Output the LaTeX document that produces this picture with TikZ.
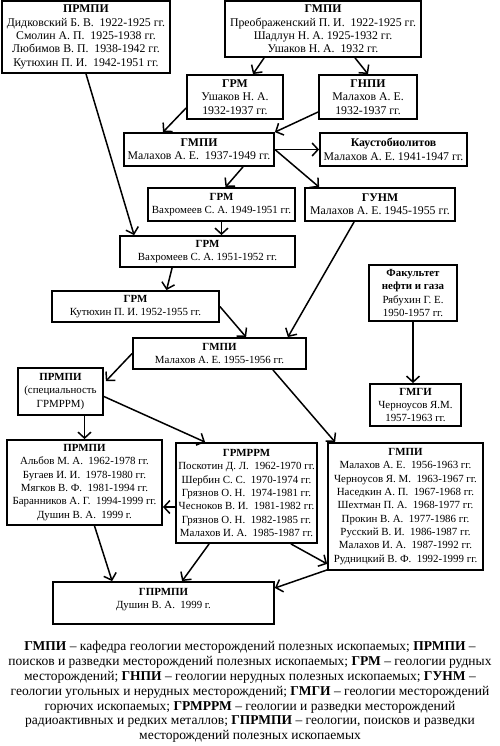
\documentclass[tikz,border=0pt]{standalone}
\usepackage{fontspec}
\setmainfont{Liberation Serif}
\usetikzlibrary{arrows.meta, calc}
\tikzset{
  unit/.style   = {draw, line width=1.8pt, align=center, inner sep=1pt,
                   font=\fontsize{10.9}{13.3}\selectfont},
  unitL/.style  = {unit, font=\fontsize{11.8}{13.3}\selectfont},
  link/.style   = {-{Straight Barb[length=6pt, width=13pt]}, line width=1.5pt},
  legend/.style = {align=center, inner sep=0pt, font=\fontsize{13.5}{14.8}\selectfont},
}

\begin{document}
\begin{tikzpicture}[x=1pt, y=-1pt]
  \useasboundingbox (0,0) rectangle (500,746);
  % first rows
  \node[unitL, minimum width=168pt, minimum height=72pt] (prmpiA) at (86,37)
    {\textbf{ПРМПИ}\\Дидковский Б. В.~ 1922-1925 гг.\\Смолин А. П.~ 1925-1938 гг.\\Любимов В. П.~ 1938-1942 гг.\\Кутюхин П. И.~ 1942-1951 гг.};
  \node[unitL, minimum width=196pt, minimum height=56pt] (gmpiA) at (323,29)
    {\textbf{ГМПИ}\\Преображенский П. И.~ 1922-1925 гг.\\Шадлун Н. А. 1925-1932 гг.\\Ушаков Н. А.~ 1932 гг.};
  \node[unitL, minimum width=96pt, minimum height=44pt] (grmA) at (235,97)
    {\textbf{ГРМ}\\Ушаков Н. А.\\1932-1937 гг.};
  \node[unitL, minimum width=98pt, minimum height=44pt] (gnpiA) at (368,97)
    {\textbf{ГНПИ}\\Малахов А. Е.\\1932-1937 гг.};
  \node[unitL, minimum width=150pt, minimum height=33pt] (gmpiB) at (199,149.5)
    {\textbf{ГМПИ}\\Малахов А. Е.~ 1937-1949 гг.};
  \node[unitL, minimum width=147pt, minimum height=33pt] (kaust) at (393.5,149.5)
    {\textbf{Каустобиолитов}\\Малахов А. Е. 1941-1947 гг.};
  \node[unit, minimum width=147pt, minimum height=33pt] (grmB) at (221.5,204.5)
    {\textbf{ГРМ}\\Вахромеев С. А. 1949-1951 гг.};
  \node[unitL, minimum width=150pt, minimum height=33pt] (gunm) at (380,204.5)
    {\textbf{ГУНМ}\\Малахов А. Е. 1945-1955 гг.};
  % middle
  \node[unit, minimum width=175pt, minimum height=31pt] (grmC) at (207.5,251.5)
    {\textbf{ГРМ}\\Вахромеев С. А. 1951-1952 гг.};
  \node[unit, minimum width=167pt, minimum height=31pt] (grmD) at (135.5,306.5)
    {\textbf{ГРМ}\\Кутюхин П. И. 1952-1955 гг.};
  \node[unit, minimum width=173pt, minimum height=31pt] (gmpiC) at (219.5,353.5)
    {\textbf{ГМПИ}\\Малахов А. Е. 1955-1956 гг.};
  \node[unit, minimum width=88pt, minimum height=56pt] (fak) at (413,293)
    {\textbf{Факультет}\\\textbf{нефти и газа}\\Рябухин Г. Е.\\1950-1957 гг.};
  \node[unit, minimum width=91pt, minimum height=42pt] (gmgi) at (415.5,405)
    {\textbf{ГМГИ}\\Черноусов Я.М.\\1957-1963 гг.};
  \node[unit, minimum width=85pt, minimum height=47pt] (prmpiB) at (60.5,391.5)
    {\textbf{ПРМПИ}\\(специальность\\ГРМРРМ)};
  % lower rows
  \node[unit, minimum width=155pt, minimum height=85pt] (prmpiC) at (84.5,482.5)
    {\textbf{ПРМПИ}\\Альбов М. А.~ 1962-1978 гг.\\Бугаев И. И.~ 1978-1980 гг.\\Мягков В. Ф.~ 1981-1994 гг.\\Баранников А. Г.~ 1994-1999 гг.\\Душин В. А.~ 1999 г.};
  \node[unit, minimum width=141pt, minimum height=100pt] (grmrrm) at (246.5,493)
    {\textbf{ГРМРРМ}\\Поскотин Д. Л.~ 1962-1970 гг.\\Шербин С. С.~ 1970-1974 гг.\\Грязнов О. Н.~ 1974-1981 гг.\\Чесноков В. И.~ 1981-1982 гг.\\Грязнов О. Н.~ 1982-1985 гг.\\Малахов И. А.~ 1985-1987 гг.};
  \node[unit, minimum width=155pt, minimum height=127pt] (gmpiD) at (405.5,506.5)
    {\textbf{ГМПИ}\\Малахов А. Е.~ 1956-1963 гг.\\Черноусов Я. М.~ 1963-1967 гг.\\Наседкин А. П.~ 1967-1968 гг.\\Шехтман П. А.~ 1968-1977 гг.\\Прокин В. А.~ 1977-1986 гг.\\Русский В. И.~ 1986-1987 гг.\\Малахов И. А.~ 1987-1992 гг.\\Рудницкий В. Ф.~ 1992-1999 гг.};
  \node[unit, minimum width=221pt, minimum height=42pt, text depth=9pt] (gprmpi) at (163.5,603)
    {\textbf{ГПРМПИ}\\Душин В. А.~ 1999 г.};
  % links
  \draw[link] (prmpiA.south) -- ($(grmC.north west)+(15,0)$);
  \draw[link] ($(gmpiA.south west)+(40,0)$) -- ($(grmA.north)+(18,0)$);
  \draw[link] ($(gmpiA.south)+(32,0)$) -- (gnpiA.north);
  \draw[link] ($(grmA.west)+(0,11)$) -- ($(gmpiB.north)+(-36,0)$);
  \draw[link] ($(gnpiA.west)+(0,15)$) -- (gmpiB.north east);
  \draw[link] (gmpiB.east) -- (kaust.west);
  \draw[link] ($(gmpiB.south)+(44,0)$) -- ($(grmB.north)+(4,0)$);
  \draw[link] (gmpiB.east) -- ($(gunm.north west)+(15,0)$);
  \draw[link] (grmB.south) -- (grmB.south |- grmC.north);
  \draw[link] ($(gunm.south west)+(50,0)$) -- ($(gmpiC.north east)+(-19,0)$);
  \draw[link] ($(grmC.south west)+(53,0)$) -- ($(grmD.north)+(31,0)$);
  \draw[link] (grmD.east) -- ($(gmpiC.north west)+(114,0)$);
  \draw[link] (fak.south) -- (fak.south |- gmgi.north);
  \draw[link] (gmpiC.west) -- ($(prmpiB.north east)+(2,14)$);
  \draw[link] ($(gmpiC.south east)+(-34,0)$) -- ($(gmpiD.north west)+(8,0)$);
  \draw[link] (prmpiC.north |- prmpiB.south) -- (prmpiC.north);
  \draw[link] ($(prmpiB.east)+(0,5)$) -- ($(grmrrm.north west)+(30,0)$);
  \draw[link] ($(grmrrm.west)+(0,14)$) -- ($(prmpiC.east)+(0,24.5)$);
  \draw[link] ($(prmpiC.south)+(10,0)$) -- ($(gprmpi.north west)+(60,0)$);
  \draw[link] ($(grmrrm.south west)+(34,0)$) -- ($(gprmpi.north west)+(130,0)$);
  \draw[link] ($(grmrrm.south east)+(-27,0)$) -- ($(gmpiD.south west)+(0,-7)$);
  \draw[link] ($(gmpiD.south west)+(0,-1)$) -- ($(gprmpi.east)+(0,-15)$);
  % key
  \node[legend] (key) at (250,692)
    {\textbf{ГМПИ} – кафедра геологии месторождений полезных ископаемых; \textbf{ПРМПИ} –\\
     поисков и разведки месторождений полезных ископаемых; \textbf{ГРМ} – геологии рудных\\
     месторождений; \textbf{ГНПИ} – геологии нерудных полезных ископаемых; \textbf{ГУНМ} –\\
     геологии угольных и нерудных месторождений; \textbf{ГМГИ} – геологии месторождений\\
     горючих ископаемых; \textbf{ГРМРРМ} – геологии и разведки месторождений\\
     радиоактивных и редких металлов; \textbf{ГПРМПИ} – геологии, поисков и разведки\\
     месторождений полезных ископаемых};
\end{tikzpicture}
\end{document}
